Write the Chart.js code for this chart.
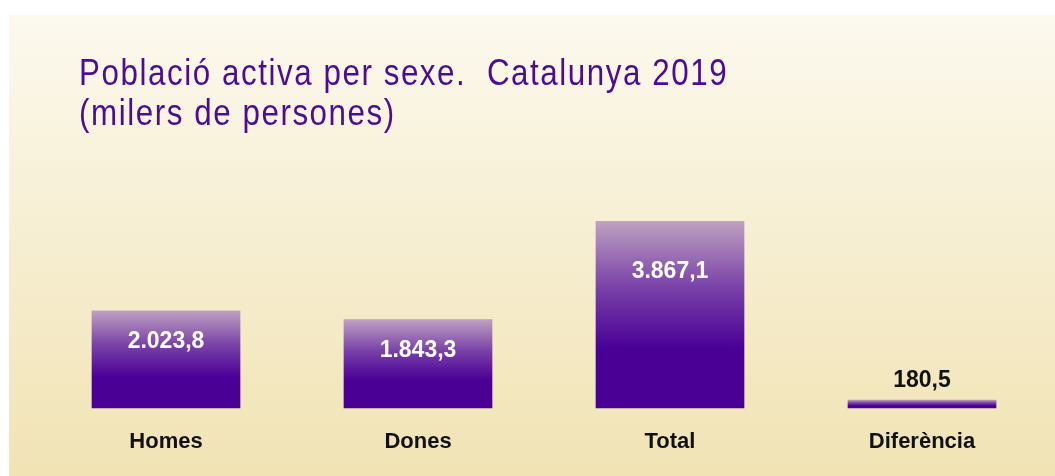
<!DOCTYPE html>
<html>
<head>
<meta charset="utf-8">
<script src="https://cdn.jsdelivr.net/npm/chart.js@4"></script>
<style>
  html, body { margin: 0; padding: 0; background: #fff; }
  #wrap { width: 1055px; height: 476px; position: relative; }
</style>
</head>
<body>
<div id="wrap"><canvas id="chart"></canvas></div>
<script>
// Data
const categories = ["Homes", "Dones", "Total", "Diferència"];
const values = [2023.8, 1843.3, 3867.1, 180.5];
const valueLabels = ["2.023,8", "1.843,3", "3.867,1", "180,5"];
const titleLines = ["Població activa per sexe.  Catalunya 2019", "(milers de persones)"];

// Cream background panel with a white margin at top and left
const backgroundPlugin = {
  id: "panelBg",
  beforeDraw(chart) {
    const ctx = chart.ctx;
    ctx.save();
    ctx.fillStyle = "#ffffff";
    ctx.fillRect(0, 0, chart.width, chart.height);
    const g = ctx.createLinearGradient(0, 15, 0, chart.height);
    g.addColorStop(0, "#fcf9ee");
    g.addColorStop(1, "#f1e3b4");
    ctx.fillStyle = g;
    ctx.fillRect(9, 15, chart.width - 9, chart.height - 15);
    ctx.restore();
  }
};

// Two-line title in the top left (condensed look: squeezed and tracked)
const titlePlugin = {
  id: "leftTitle",
  afterDraw(chart) {
    const ctx = chart.ctx;
    ctx.save();
    ctx.fillStyle = "#4b0c98";
    ctx.font = "36px 'Liberation Sans', Arial, sans-serif";
    ctx.textBaseline = "alphabetic";
    ctx.letterSpacing = "1.8px";
    ctx.translate(79, 0);
    ctx.scale(0.87, 1);
    ctx.fillText(titleLines[0], 0, 85);
    ctx.fillText(titleLines[1], 0, 125);
    ctx.restore();
  }
};

// Value labels: inside tall bars in white, above short bars in black
const valueLabelPlugin = {
  id: "valueLabels",
  afterDatasetsDraw(chart) {
    const ctx = chart.ctx;
    const meta = chart.getDatasetMeta(0);
    ctx.save();
    ctx.font = "bold 23px 'Liberation Sans', Arial, sans-serif";
    ctx.textAlign = "center";
    ctx.textBaseline = "middle";
    meta.data.forEach((bar, i) => {
      const h = bar.base - bar.y;
      if (h < 30) {
        ctx.fillStyle = "#111111";
        ctx.fillText(valueLabels[i], bar.x, bar.y - 19);
      } else {
        ctx.fillStyle = "#ffffff";
        ctx.fillText(valueLabels[i], bar.x, bar.y + (h > 150 ? 51 : 31));
      }
    });
    ctx.restore();
  }
};

function barGradient(context) {
  const chart = context.chart;
  if (!chart.chartArea) return "#4a0094";
  const y = chart.scales.y;
  const top = y.getPixelForValue(values[context.dataIndex]);
  const bottom = y.getPixelForValue(0);
  const g = chart.ctx.createLinearGradient(0, top, 0, bottom);
  g.addColorStop(0, "#bea2c2");
  g.addColorStop(0.35, "#7a42a8");
  g.addColorStop(0.68, "#4a0096");
  g.addColorStop(1, "#4a0094");
  return g;
}

new Chart(document.getElementById("chart"), {
  type: "bar",
  data: {
    labels: categories,
    datasets: [{
      data: values,
      backgroundColor: barGradient,
      borderWidth: 0,
      categoryPercentage: 1,
      barPercentage: 0.59
    }]
  },
  options: {
    responsive: true,
    maintainAspectRatio: false,
    animation: false,
    layout: { padding: { top: 166, left: 40, right: 7, bottom: 1 } },
    plugins: {
      legend: { display: false },
      tooltip: { enabled: false },
      title: { display: false }
    },
    scales: {
      x: {
        grid: { display: false, drawTicks: false },
        border: { display: false },
        ticks: {
          color: "#111111",
          padding: 20,
          font: { family: "'Liberation Sans', Arial, sans-serif", size: 22, weight: "bold" }
        }
      },
      y: {
        display: false,
        min: 0,
        max: 5000
      }
    }
  },
  plugins: [backgroundPlugin, valueLabelPlugin, titlePlugin]
});
</script>
</body>
</html>
